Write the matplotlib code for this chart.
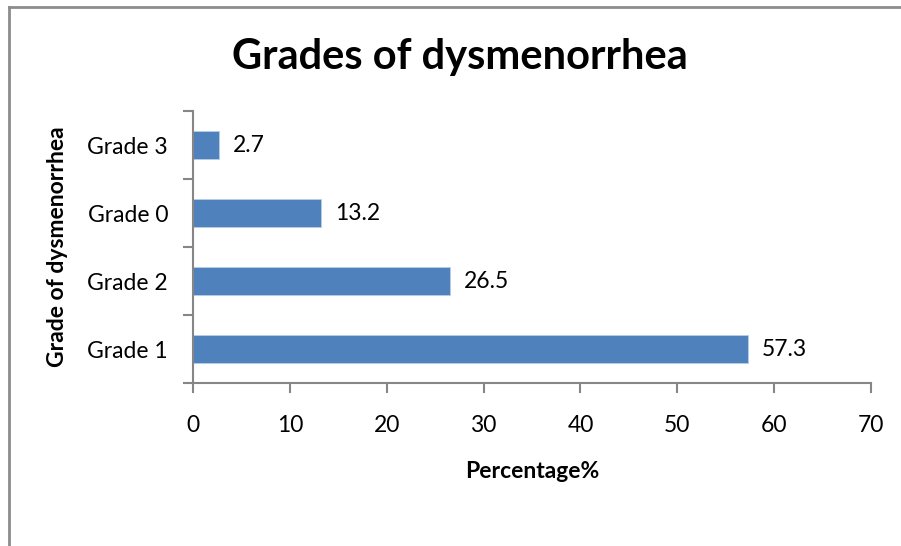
import matplotlib
matplotlib.use('Agg')
import matplotlib.pyplot as plt
from matplotlib.lines import Line2D

### data ###
grades = ['Grade 1', 'Grade 2', 'Grade 0', 'Grade 3']
percent = [57.3, 26.5, 13.2, 2.7]
xticks = [0, 10, 20, 30, 40, 50, 60, 70]

plt.rcParams['font.family'] = ['Lato', 'DejaVu Sans']
axis_grey = '#868686'
bar_blue = '#4f81bd'

fig = plt.figure(figsize=(9.01, 5.46), dpi=100)
ax = fig.add_axes([193/901, 1 - 383/546, 678/901, 272/546])

# outer chart border: only top and left edges are visible in the crop
top_y = 1 - 6.5/546
left_x = 8.5/901
fig.add_artist(Line2D([left_x, 1.0], [top_y, top_y], transform=fig.transFigure,
                      color='#8c8c8c', linewidth=2))
fig.add_artist(Line2D([left_x, left_x], [0, top_y], transform=fig.transFigure,
                      color='#8c8c8c', linewidth=2))

y = range(len(grades))
bars = ax.barh(y, percent, height=0.4, color=bar_blue, edgecolor='#b9cde5', linewidth=0.6)

for yi, v in zip(y, percent):
    ax.annotate(str(v), (v, yi), xytext=(10, 0), textcoords='offset points',
                va='center', ha='left', fontsize=16.5, color='black')

ax.set_xlim(0, 70)
ax.set_ylim(-0.5, len(grades) - 0.5)
ax.set_xticks(xticks)
ax.set_xticklabels([str(t) for t in xticks], fontsize=16.5)
ax.set_yticks([i - 0.5 for i in range(len(grades) + 1)], minor=False)
ax.set_yticklabels([])
ax.set_yticks(list(y), minor=True)
ax.set_yticklabels(grades, minor=True, fontsize=16.5)
ax.tick_params(axis='y', which='minor', length=0, pad=18)
ax.tick_params(axis='y', which='major', length=7, color=axis_grey, width=1.5, direction='out')
ax.tick_params(axis='x', length=7, color=axis_grey, width=1.5, direction='out', pad=16)

for s in ['top', 'right']:
    ax.spines[s].set_visible(False)
for s in ['left', 'bottom']:
    ax.spines[s].set_color(axis_grey)
    ax.spines[s].set_linewidth(1.5)

ax.set_xlabel('Percentage%', fontsize=16.5, fontweight='bold', va='center')
ax.xaxis.set_label_coords(0.5, (383 - 472) / 272)
ax.set_ylabel('Grade of dysmenorrhea', fontsize=16.5, fontweight='bold', va='center')
ax.yaxis.set_label_coords((57 - 193) / 678, 0.5)
fig.text(460/901, 1 - 57/546, 'Grades of dysmenorrhea', ha='center', va='center',
         fontsize=30, fontweight='bold')

fig.savefig('out.png', dpi=100)
